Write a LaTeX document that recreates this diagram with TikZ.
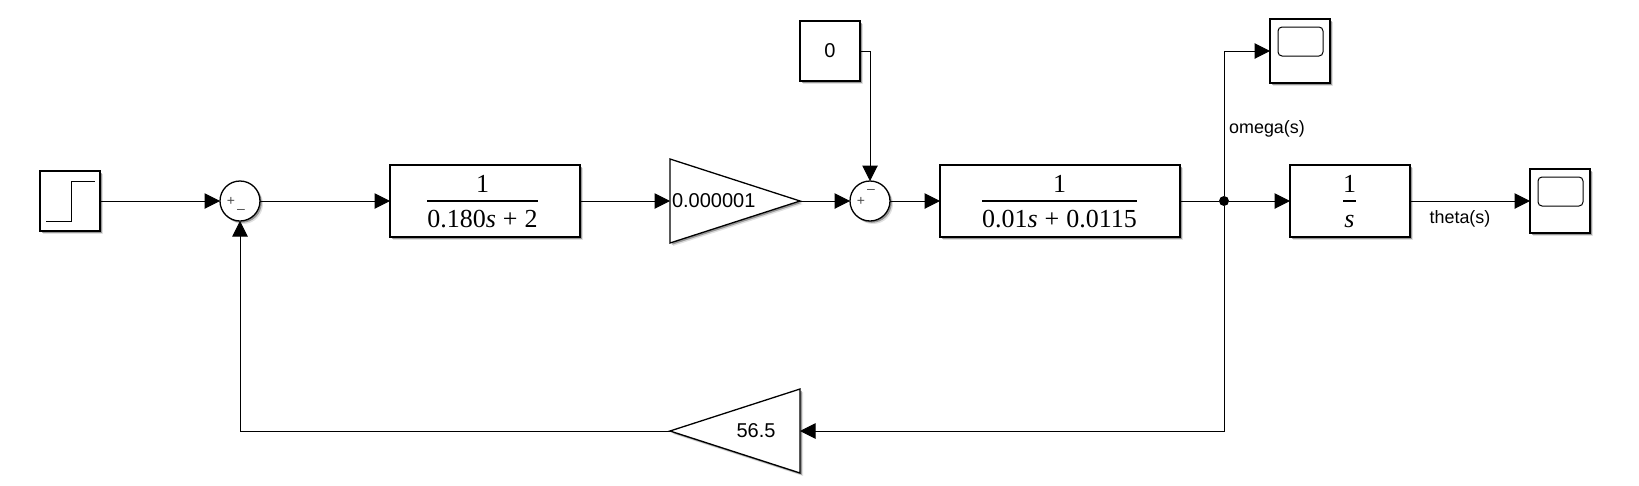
\documentclass[tikz,border=0pt]{standalone}
\usepackage{fontspec}
\setmainfont{Liberation Sans}
\newfontfamily\serifface{Liberation Serif}
\usetikzlibrary{arrows.meta,shadows,shapes.geometric}
\newcommand\tffont{\serifface\fontsize{26}{26}\selectfont}
\newcommand\blockfrac[2]{$\displaystyle{\hbox{\tffont\rule[-3.5pt]{0pt}{1pt}#1}\above 1.4pt\hbox{\tffont\rule{0pt}{21.5pt}#2}}$}
\newcommand\plusgap{\kern7pt+\kern7pt}
\tikzset{
  soft/.style={drop shadow={shadow xshift=3pt,shadow yshift=-3pt,opacity=.12,fill=black},
               drop shadow={shadow xshift=1.8pt,shadow yshift=-1.8pt,opacity=.32,fill=black}},
  blockbox/.style={draw=black,fill=white,line width=1.3pt,rectangle,inner sep=0pt,outer sep=0pt,soft},
  small/.style={blockbox,minimum width=60pt,minimum height=60pt},
  scopebox/.style={blockbox,minimum width=60pt,minimum height=64pt},
  tfbox/.style={blockbox,minimum height=72pt},
  sumbox/.style={draw=black,fill=white,line width=1.3pt,circle,minimum size=40pt,inner sep=0pt,outer sep=0pt,soft},
  gainbox/.style={draw=black,fill=white,line width=1.3pt,isosceles triangle,isosceles triangle stretches=true,
     minimum width=84pt,minimum height=130pt,inner sep=0pt,outer sep=0pt,soft},
  sig/.style={line width=1pt,draw=black},
  arr/.style={sig,-{Triangle[length=15.5pt,width=15.5pt]}},
  txt/.style={inner sep=0pt,outer sep=0pt,text=black},
  gaintxt/.style={txt,font=\fontsize{20}{20}\selectfont},
  lbl/.style={txt,font=\fontsize{17.9}{18}\selectfont},
  signtxt/.style={txt,text=black!70,font=\fontsize{14}{14}\selectfont},
  frac/.style={txt,anchor=base},
  icon/.style={line width=1pt,draw=black},
}
\begin{document}
\begin{tikzpicture}[x=1pt,y=-1pt]
\useasboundingbox (0,0) rectangle (1639,485);
% blocks
\node[small] (step) at (70,201) {};
\node[sumbox] (sum1) at (240,201) {};
\node[tfbox,minimum width=190pt] (tf1) at (485,201) {};
\node[gainbox,shape border rotate=0,anchor=lower side] (gain1) at (670,201) {};
\node[sumbox] (sum2) at (870,201) {};
\node[small] (const) at (830,51) {};
\node[gaintxt] (consttxt) at (830,51) {0};
\node[tfbox,minimum width=240pt] (tf2) at (1060,201) {};
\node[tfbox,minimum width=120pt] (tf3) at (1350,201) {};
\node[scopebox] (scope1) at (1300,51) {};
\node[scopebox] (scope2) at (1560,201) {};
\node[gainbox,shape border rotate=180,anchor=lower side] (gain2) at (800,431) {};
% block contents
\draw[icon] (46,221) -- (71,221) -- (71,181) -- (95,181);
\draw[icon,rounded corners=4pt] (1278,27) rectangle (1323,56);
\draw[icon,rounded corners=4pt] (1538,177) rectangle (1583,206);
\node[signtxt] (plus1) at (231,201) {+};
\node[signtxt] (minus1) at (241,211) {\textendash};
\node[signtxt] (plus2) at (861,201.5) {+};
\node[signtxt] (minus2) at (871,191) {\textendash};
\node[frac] (f1) at (482.5,203.5) {\blockfrac{1}{0.180\textit{s}\plusgap 2}};
\node[frac] (f2) at (1059.5,203.5) {\blockfrac{1}{0.01\textit{s}\plusgap 0.0115}};
\node[frac] (f3) at (1349.5,203.5) {\blockfrac{1}{\kern1pt\textit{s}\kern1pt}};
\node[gaintxt,anchor=west] (g1t) at (672,201) {0.000001};
\node[gaintxt] (g2t) at (756,431) {56.5};
\node[lbl] (lomega) at (1267,128.5) {omega(s)};
\node[lbl] (ltheta) at (1460,218.5) {theta(s)};
% junction
\node[circle,fill=black,minimum size=10pt,inner sep=0pt,outer sep=0pt] (j) at (1224,201) {};
\coordinate (jup) at (1224,51);
\coordinate (jdown) at (1224,431);
\coordinate (cturn) at (870,51);
\coordinate (fbturn) at (240,431);
% connectors
\draw[arr] (step.east) -- (sum1.west);
\draw[arr] (sum1.east) -- (tf1.west);
\draw[arr] (tf1.east) -- (gain1.lower side);
\draw[arr] (gain1.apex) -- (sum2.west);
\draw[arr] (sum2.east) -- (tf2.west);
\draw[arr] (const.east) -- (cturn) -- (sum2.north);
\draw[sig] (tf2.east) -- (j);
\draw[arr] (j) -- (tf3.west);
\draw[arr] (tf3.east) -- (scope2.west);
\draw[arr] (j) -- (jup) -- (scope1.west);
\draw[arr] (j) -- (jdown) -- (gain2.lower side);
\draw[arr] (gain2.apex) -- (fbturn) -- (sum1.south);
\end{tikzpicture}
\end{document}
